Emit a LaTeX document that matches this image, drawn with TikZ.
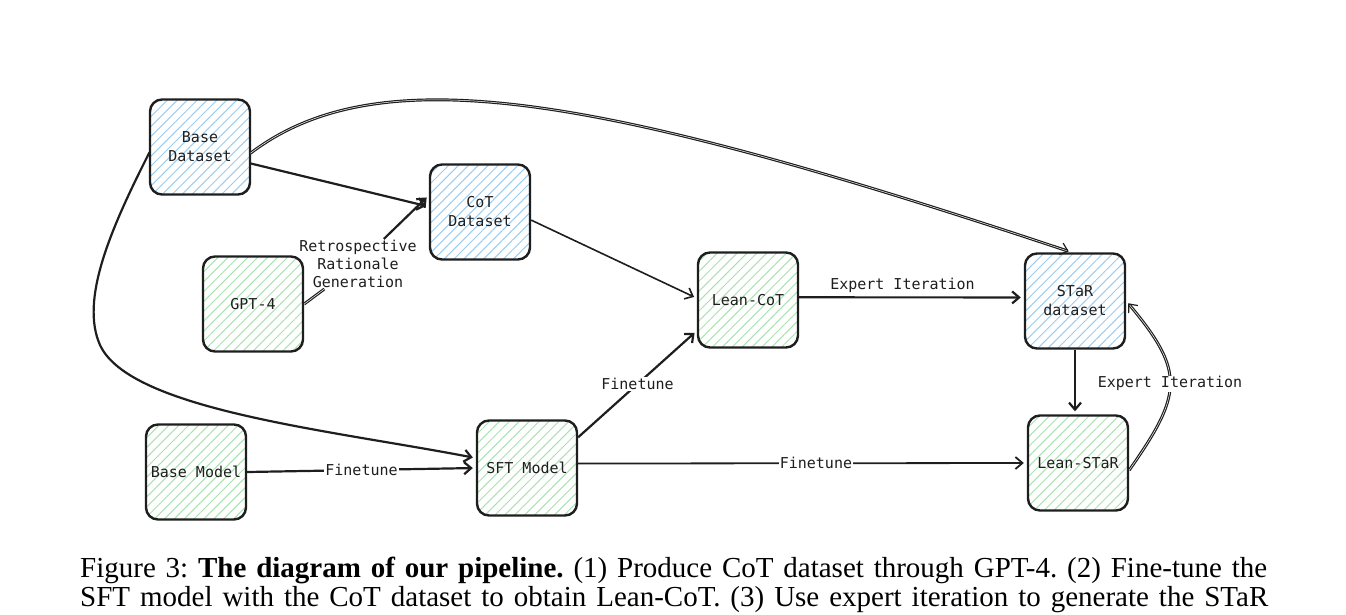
\documentclass[tikz,border=0pt]{standalone}
\usepackage{fontspec}
\setmainfont{Liberation Serif}
\setmonofont{DejaVu Sans Mono}
\usetikzlibrary{arrows.meta,patterns.meta,positioning,calc}
\definecolor{hatchblue}{HTML}{9CCBF0}
\definecolor{hatchgreen}{HTML}{A8E2AF}
\definecolor{ink}{HTML}{1E1E1E}

\tikzset{
  box/.style={draw=ink, line width=2.4pt, rounded corners=12pt, minimum width=100pt,
    minimum height=95pt, align=center, text=ink, font=\ttfamily\fontsize{15}{19}\selectfont},
  databox/.style={box, pattern={Lines[angle=45,distance=7pt,line width=1pt]}, pattern color=hatchblue},
  modelbox/.style={box, pattern={Lines[angle=45,distance=7pt,line width=1pt]}, pattern color=hatchgreen},
  flow/.style={draw=ink, line width=2.2pt, shorten >=3pt, -{Straight Barb[length=7pt,width=12pt]}},
  sketch/.style={flow, double=white, double distance=0.5pt, line width=1.2pt},
  lbl/.style={fill=white, inner sep=1pt, text=ink, align=center, font=\ttfamily\fontsize{15}{18}\selectfont},
}

\begin{document}
\frenchspacing
\begin{tikzpicture}[x=1pt, y=-1pt]
\useasboundingbox (0,0) rectangle (1346,614);

% Datasets
\node[databox] (bdata) at (200,147) {Base\\Dataset};
\node[databox] (cot) at (480,212) {CoT\\Dataset};
\node[databox] (star) at (1075,301) {STaR\\dataset};

% Models
\node[modelbox] (gpt) at (253,304) {GPT-4};
\node[modelbox] (lcot) at (748,300) {Lean-CoT};
\node[modelbox] (bmodel) at (196,472) {Base Model};
\node[modelbox] (sft) at (527,468) {SFT Model};
\node[modelbox] (lstar) at (1078,463) {Lean-STaR};

% Rationale generation
\node[lbl, fill=none] (rrg) at (358,264) {Retrospective\\Rationale\\Generation};
\draw[sketch, shorten >=0pt, -] (gpt.east) -- (rrg);
\draw[flow] (rrg) -- (cot.162);

% Edges
\draw[flow] (bdata.-18) -- (cot.174);
\draw[sketch] (bdata.-7) .. controls (380,55) and (600,95) .. (star.94);
\draw[flow] (bdata.186) .. controls (110,230) and (80,300) .. (100,345)
  .. controls (130,410) and (330,430) .. (sft.169);
\draw[flow, line width=1.6pt] (cot.-9) -- (lcot.178);
\draw[flow] (sft.31) -- node[lbl, pos=0.5] {Finetune} (lcot.211);
\draw[flow] (bmodel.east) -- node[lbl] {Finetune} (sft.west);
\draw[flow, line width=1.8pt] (sft.5) -- node[lbl, pos=0.53] {Finetune} (lstar.west);
\draw[flow] (lcot.3) -- node[lbl, above=3pt, pos=0.46] {Expert Iteration} (star.176);
\draw[flow] (star.south) -- (star.south |- lstar.north);
\draw[sketch] (lstar.-8) to[out=55, in=-50, looseness=1.4] node[lbl, pos=0.5] {Expert Iteration} (star.east);

% Caption
\node[anchor=base west, inner sep=0pt, font=\fontsize{29}{30}\selectfont] (cap1) at (80,577)
  {\makebox[1187pt][s]{Figure 3: \textbf{The diagram of our pipeline.} (1) Produce CoT dataset through GPT-4. (2) Fine-tune the}};
\node[anchor=base west, inner sep=0pt, font=\fontsize{29}{30}\selectfont] (cap2) at (80,606)
  {\makebox[1188pt][s]{SFT model with the CoT dataset to obtain Lean-CoT. (3) Use expert iteration to generate the STaR}};
\end{tikzpicture}
\end{document}
